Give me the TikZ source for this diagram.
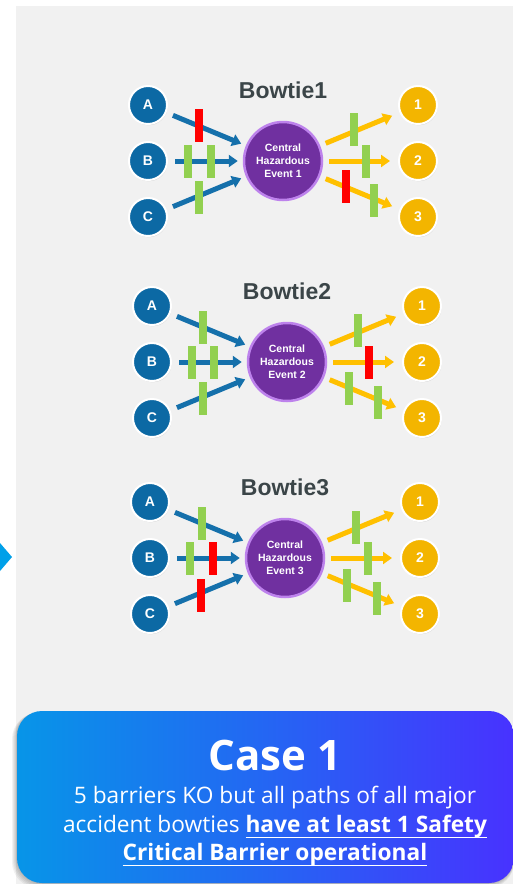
\documentclass[tikz,border=0pt]{standalone}
\usepackage{fontspec}
\setmainfont{Liberation Sans}
\newfontfamily\boxfont{Open Sans}
\usetikzlibrary{arrows.meta,shadows}

\definecolor{panelgray}{HTML}{F1F1F1}
\definecolor{titlegray}{HTML}{3B4548}
\definecolor{causeblue}{HTML}{0C69A4}
\definecolor{threatblue}{HTML}{1570AB}
\definecolor{conseqgold}{HTML}{F3B500}
\definecolor{conseqarrow}{HTML}{FFC000}
\definecolor{hazardpurple}{HTML}{7030A0}
\definecolor{hazardring}{HTML}{BD82EC}
\definecolor{okgreen}{HTML}{92D050}
\definecolor{kored}{HTML}{FF0000}
\definecolor{caseleft}{HTML}{0795E8}
\definecolor{casemid}{HTML}{2466F3}
\definecolor{caseright}{HTML}{4832FF}
\definecolor{markerblue}{HTML}{00A0E9}

\tikzset{
  cause/.style={circle, minimum size=38pt, inner sep=0pt, fill=causeblue,
    draw=white, line width=2pt, text=white,
    font=\bfseries\fontsize{14}{14}\selectfont,
    drop shadow={shadow xshift=0.6pt, shadow yshift=-1.2pt, opacity=0.3}},
  conseq/.style={cause, fill=conseqgold},
  hazard/.style={circle, minimum size=78pt, inner sep=0pt, fill=hazardpurple,
    draw=hazardring, line width=2.5pt, text=white, align=center,
    font=\bfseries\fontsize{10.5}{13}\selectfont},
  bowtitle/.style={text=titlegray, font=\bfseries\fontsize{23}{27}\selectfont},
  threat/.style={draw=threatblue, line width=5pt,
    -{Triangle[length=9pt,width=12pt]}, shorten <=7pt, shorten >=5pt},
  outcome/.style={draw=conseqarrow, line width=5pt,
    -{Triangle[length=9pt,width=12pt]}, shorten <=6pt, shorten >=8pt},
  okbar/.style={rectangle, minimum width=8pt, minimum height=33pt,
    inner sep=0pt, fill=okgreen},
  kobar/.style={okbar, fill=kored},
  caseline/.style={text=white, font=\boxfont\fontsize{22.7}{26}\selectfont, anchor=base},
}

% underline with a thicker rule set a fixed distance below the baseline
\newcommand\thickul[1]{\setbox0\hbox{#1}\rlap{\raisebox{-6.4pt}{\rule{\wd0}{1.4pt}}}\box0}

% nodes and arrows of one bowtie, centred on the hazard event
\newcommand\bowtiebase[1]{%
  \node[hazard] (e#1) at (0,0) {Central\\Hazardous\\Event #1};
  \node[bowtitle] (t#1) at (0,-71) {Bowtie#1};
  \node[cause] (a#1) at (-135,-56) {A};
  \node[cause] (b#1) at (-135,0) {B};
  \node[cause] (c#1) at (-135,56) {C};
  \node[conseq] (p#1) at (135,-56) {1};
  \node[conseq] (q#1) at (135,0) {2};
  \node[conseq] (r#1) at (135,56) {3};
  \draw[threat] (a#1) -- (e#1);
  \draw[threat] (b#1) -- (e#1);
  \draw[threat] (c#1) -- (e#1);
  \draw[outcome] (e#1) -- (p#1);
  \draw[outcome] (e#1) -- (q#1);
  \draw[outcome] (e#1) -- (r#1);
}

\begin{document}
\begin{tikzpicture}[x=1pt, y=-1pt]
  \useasboundingbox (0,0) rectangle (513,884);
  \clip (0,0) rectangle (513,884);

  % page background and grey panel
  \fill[white] (0,0) rectangle (513,884);
  \fill[panelgray] (16,6) rectangle (513,884);

  % side marker
  \fill[markerblue] (0,543) -- (12,557) -- (0,571) -- cycle;

  % Bowtie 1
  \begin{scope}[shift={(283,161)}]
    \bowtiebase{1}
    \node[kobar] (ba1) at (-84,-36) {};
    \node[okbar] (bb1) at (-95,0) {};
    \node[okbar] (bc1) at (-72,0) {};
    \node[okbar] (bd1) at (-84,36) {};
    \node[okbar] (be1) at (71,-32) {};
    \node[okbar] (bf1) at (83,0) {};
    \node[kobar] (bg1) at (63,25) {};
    \node[okbar] (bh1) at (91,39) {};
  \end{scope}

  % Bowtie 2
  \begin{scope}[shift={(287,362)}]
    \bowtiebase{2}
    \node[okbar] (ba2) at (-84,-35) {};
    \node[okbar] (bb2) at (-95,0) {};
    \node[okbar] (bc2) at (-73,0) {};
    \node[okbar] (bd2) at (-84,36) {};
    \node[okbar] (be2) at (71,-32) {};
    \node[kobar] (bf2) at (82,0) {};
    \node[okbar] (bg2) at (62,26) {};
    \node[okbar] (bh2) at (91,40) {};
  \end{scope}

  % Bowtie 3
  \begin{scope}[shift={(285,558)}]
    \bowtiebase{3}
    \node[okbar] (ba3) at (-83,-35) {};
    \node[okbar] (bb3) at (-95,0) {};
    \node[kobar] (bc3) at (-72,0) {};
    \node[kobar] (bd3) at (-84,37) {};
    \node[okbar] (be3) at (71,-31) {};
    \node[okbar] (bf3) at (83,0) {};
    \node[okbar] (bg3) at (62,27) {};
    \node[okbar] (bh3) at (92,40) {};
  \end{scope}

  % soft shadow of the case box
  \foreach \s in {1,2,3,4,5}
    \fill[black, opacity=0.05, rounded corners=26pt]
      (17-\s,711+0.4*\s) rectangle (514,883+\s);

  % case box
  \shade[left color=caseleft, right color=caseright, middle color=casemid,
         rounded corners=25pt] (17,711) rectangle (514,883);

  \node[text=white, anchor=base, font=\boxfont\bfseries\fontsize{42}{46}\selectfont]
    (casetitle) at (275,770) {Case 1};
  \node[caseline] (line1) at (275,803) {5 barriers KO but all paths of all major};
  \node[caseline] (line2) at (275,832)
    {accident bowties \thickul{\bfseries have at least 1 Safety}};
  \node[caseline] (line3) at (275,860)
    {\thickul{\bfseries Critical Barrier operational}};
\end{tikzpicture}
\end{document}
